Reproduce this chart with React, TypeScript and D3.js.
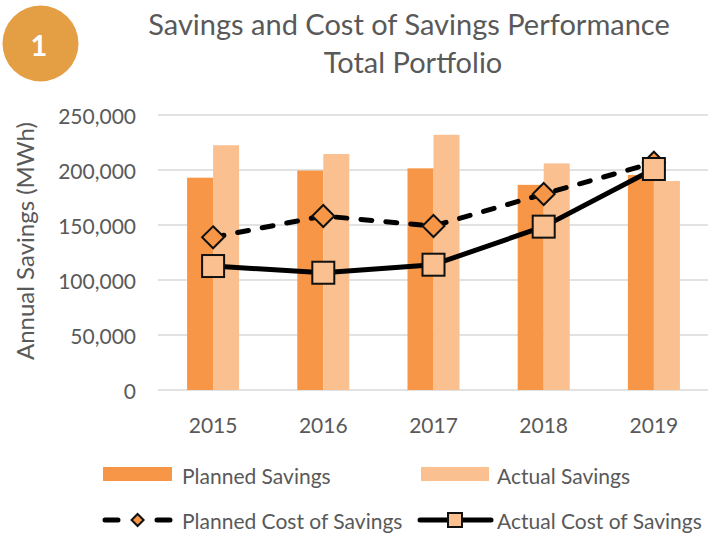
import React from 'react';
import * as d3 from 'd3';

const years = ['2015', '2016', '2017', '2018', '2019'];
const plannedSavings = [193000, 199500, 201500, 186500, 195500];
const actualSavings = [222500, 214500, 232000, 206000, 190000];
const plannedCost = [138800, 158200, 149100, 178200, 206600];
const actualCost = [112700, 106600, 113900, 148500, 200900];
const yTicks = [0, 50000, 100000, 150000, 200000, 250000];

const W = 708;
const H = 535;
const FONT = 'Lato, "Open Sans", sans-serif';
const TXT = '#595959';
const C_PLANNED = '#F79646';
const C_ACTUAL = '#FAC090';

export default function App() {
  const x = d3.scaleBand<string>().domain(years).range([158, 709]).padding(0);
  const y = d3.scaleLinear().domain([0, 250000]).range([390, 115]);
  const bw = x.bandwidth();
  const barW = bw * 0.236;
  const cx = (yr: string) => (x(yr) as number) + bw / 2;
  const fmt = d3.format(',');

  const line = d3
    .line<number>()
    .x((_, i) => cx(years[i]))
    .y((d) => y(d));

  const diamond = (px: number, py: number, r: number) =>
    `M${px},${py - r}L${px + r},${py}L${px},${py + r}L${px - r},${py}Z`;

  return (
    <svg
      width={W}
      height={H}
      style={{ position: 'absolute', left: 0, top: 0, background: '#fff' }}
      fontFamily={FONT}
    >
      {/* badge */}
      <circle cx={40.5} cy={43.5} r={38} fill="#E49E44" />
      <text x={39} y={44} textAnchor="middle" dominantBaseline="central" fill="#fff" fontSize={29} fontWeight={700}>
        1
      </text>

      {/* title */}
      <text x={409} y={35} textAnchor="middle" fill={TXT} fontSize={29}>
        Savings and Cost of Savings Performance
      </text>
      <text x={413} y={73} textAnchor="middle" fill={TXT} fontSize={29}>
        Total Portfolio
      </text>

      {/* gridlines */}
      {yTicks.map((t) => (
        <line key={t} x1={158} x2={709} y1={y(t)} y2={y(t)} stroke="#D9D9D9" strokeWidth={1.5} />
      ))}
      {/* y tick labels */}
      {yTicks.map((t) => (
        <text key={'l' + t} x={136} y={y(t)} textAnchor="end" dominantBaseline="central" fill={TXT} fontSize={21}>
          {fmt(t)}
        </text>
      ))}
      {/* y title */}
      <text
        transform={`translate(24,241) rotate(-90)`}
        textAnchor="middle"
        dominantBaseline="central"
        fill={TXT}
        fontSize={24}
      >
        Annual Savings (MWh)
      </text>

      {/* bars */}
      {years.map((yr, i) => (
        <g key={yr}>
          <rect x={cx(yr) - barW} y={y(plannedSavings[i])} width={barW} height={y(0) - y(plannedSavings[i])} fill={C_PLANNED} />
          <rect x={cx(yr)} y={y(actualSavings[i])} width={barW} height={y(0) - y(actualSavings[i])} fill={C_ACTUAL} />
        </g>
      ))}

      {/* x labels */}
      {years.map((yr) => (
        <text key={'x' + yr} x={cx(yr)} y={424} textAnchor="middle" dominantBaseline="central" fill={TXT} fontSize={21}>
          {yr}
        </text>
      ))}

      {/* planned cost line */}
      <path d={line(plannedCost) as string} fill="none" stroke="#000" strokeWidth={5} strokeDasharray="11 14" strokeLinecap="round" />
      {plannedCost.map((v, i) => (
        <path key={'d' + i} d={diamond(cx(years[i]), y(v), 11)} fill={C_PLANNED} stroke="#111" strokeWidth={2} />
      ))}

      {/* actual cost line */}
      <path d={line(actualCost) as string} fill="none" stroke="#000" strokeWidth={5} strokeLinejoin="round" />
      {actualCost.map((v, i) => (
        <rect key={'s' + i} x={cx(years[i]) - 11} y={y(v) - 11} width={22} height={22} fill={C_ACTUAL} stroke="#111" strokeWidth={2} />
      ))}

      {/* legend */}
      <rect x={103} y={467} width={69} height={14} fill={C_PLANNED} />
      <text x={182} y={475} dominantBaseline="central" fill={TXT} fontSize={21}>
        Planned Savings
      </text>
      <rect x={421} y={467} width={68} height={14} fill={C_ACTUAL} />
      <text x={497} y={475} dominantBaseline="central" fill={TXT} fontSize={21}>
        Actual Savings
      </text>

      <line x1={105} x2={170} y1={520} y2={520} stroke="#000" strokeWidth={5} strokeDasharray="13 39" strokeLinecap="round" />
      <path d={diamond(137.6, 520, 6)} fill={C_PLANNED} stroke="#111" strokeWidth={2} />
      <text x={182} y={520} dominantBaseline="central" fill={TXT} fontSize={21}>
        Planned Cost of Savings
      </text>
      <line x1={420} x2={491} y1={520} y2={520} stroke="#000" strokeWidth={5} strokeLinecap="round" />
      <rect x={448} y={513} width={14} height={14} fill={C_ACTUAL} stroke="#111" strokeWidth={2} />
      <text x={497} y={520} dominantBaseline="central" fill={TXT} fontSize={21}>
        Actual Cost of Savings
      </text>
    </svg>
  );
}
